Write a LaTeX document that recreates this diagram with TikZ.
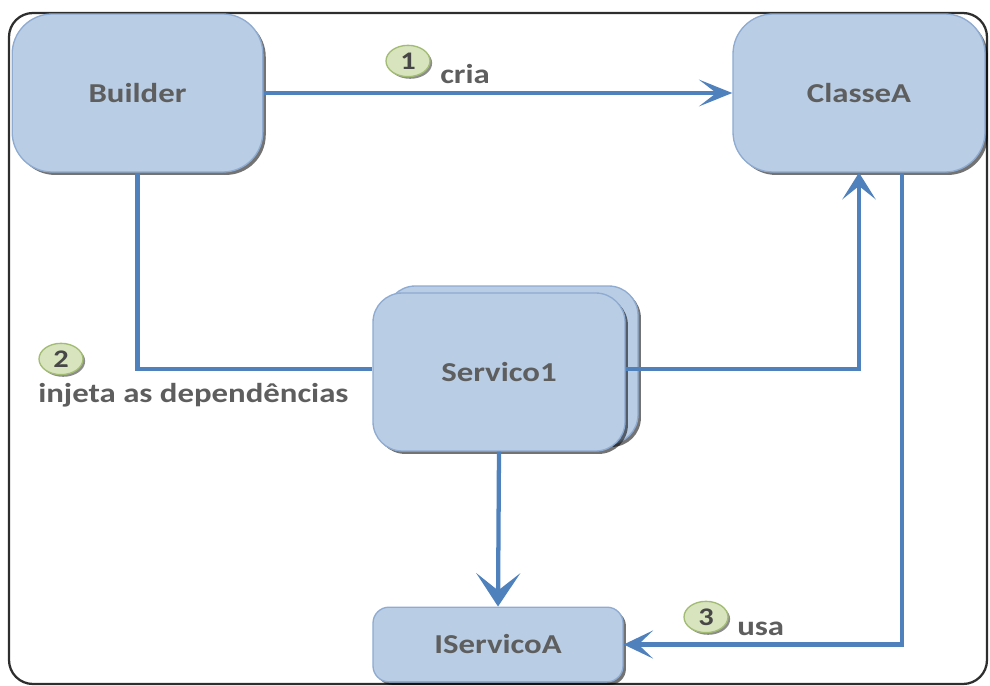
\documentclass[tikz,border=0pt]{standalone}
\usepackage{fontspec}
\newfontfamily\labfont[FakeStretch=1.2]{Carlito}
\usetikzlibrary{arrows.meta,shapes.geometric,shadows}
\definecolor{boxfill}{HTML}{B9CDE5}
\definecolor{boxline}{HTML}{8EABD2}
\definecolor{wire}{HTML}{4F81BD}
\definecolor{txt}{HTML}{5E5E5E}
\definecolor{badgefill}{HTML}{D7E4BD}
\definecolor{badgeline}{HTML}{A3BC74}
\definecolor{frame}{HTML}{2E2E2E}
\tikzset{
  boxshadow/.style={drop shadow={shadow xshift=2.2pt, shadow yshift=-2.2pt, fill=black, opacity=0.55}},
  box/.style={rectangle, draw=boxline, line width=1pt, fill=boxfill, rounded corners=#1,
    boxshadow, inner sep=0pt, text=txt,
    font=\labfont\bfseries\fontsize{20.5}{23}\selectfont},
  box/.default=30pt,
  wireline/.style={draw=wire, line width=3.2pt},
  badge/.style={ellipse, draw=badgeline, line width=1pt, fill=badgefill,
    minimum width=33pt, minimum height=23.5pt, inner sep=0pt,
    drop shadow={shadow xshift=1.6pt, shadow yshift=-1.6pt, fill=black, opacity=0.45},
    text=black!72, font=\labfont\bfseries\fontsize{19}{21}\selectfont},
  lbl/.style={inner sep=0pt, anchor=base west, text=txt,
    font=\labfont\bfseries\fontsize{20.5}{23}\selectfont}
}
\begin{document}
\begin{tikzpicture}[x=0.75pt,y=-0.75pt]
\useasboundingbox (0,0) rectangle (990,686);

% outer frame
\draw[frame, line width=1.7pt, rounded corners=18pt] (9,13) rectangle (987,684);

% class boxes
\node[box, minimum width=188pt, minimum height=118.5pt] (builder) at (137.5,93) {Builder};
\node[box, minimum width=189pt, minimum height=118.5pt] (classea) at (859,93) {ClasseA};
\node[box=22pt, minimum width=189pt, minimum height=118.5pt] (servback) at (512,365) {};
\node[box=22pt, minimum width=189pt, minimum height=118.5pt] (servico) at (499,372) {Servico1};
\node[box=12pt, minimum width=187.5pt, minimum height=56pt] (iservico) at (498,644.5) {IServicoA};

% connectors
\draw[wireline, -{Stealth[length=25pt, width=20pt, inset=13pt]}]
  (builder.east) -- (classea.west);
\draw[wireline] (builder.south) |- ([yshift=2pt]servico.west);
\draw[wireline, -{Stealth[length=20pt, width=25pt, inset=10pt]}]
  ([yshift=2pt]servico.east) -| (classea.south);
\draw[wireline, -{Stealth[length=25pt, width=33pt, inset=13pt]}]
  (servico.south) -- (iservico.north);
\coordinate (usestart) at ([xshift=32pt]classea.south);
\draw[wireline, -{Stealth[length=22pt, width=21pt, inset=11pt]}]
  (usestart) |- (iservico.east);

% step markers and their labels
\node[badge] (b1) at (408,61) {1};
\node[lbl] (l1) at (440,83) {cria};
\node[badge] (b2) at (61,359) {2};
\node[lbl] (l2) at (38,402) {injeta as dependências};
\node[badge] (b3) at (706,617) {3};
\node[lbl] (l3) at (737,635) {usa};
\end{tikzpicture}
\end{document}
